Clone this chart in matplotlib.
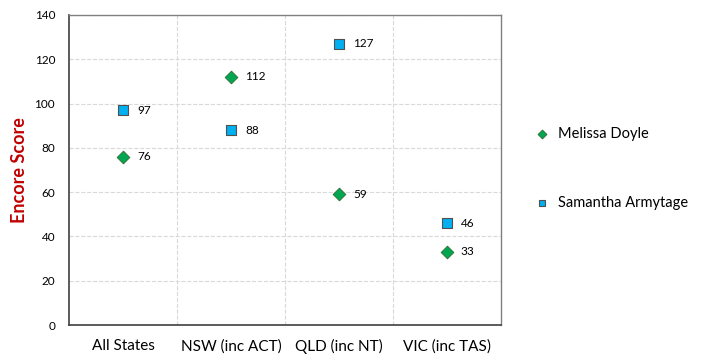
import matplotlib.pyplot as plt
import numpy as np

# Data
categories = ["All States", "NSW (inc ACT)", "QLD (inc NT)", "VIC (inc TAS)"]
melissa = [76, 112, 59, 33]
samantha = [97, 88, 127, 46]

plt.rcParams['font.family'] = ['Lato', 'DejaVu Sans']

fig = plt.figure(figsize=(7.07, 3.62), dpi=100)
ax = fig.add_axes([0.0976, 0.1022, 0.611, 0.8564])

x = np.arange(1, len(categories) + 1)
ax.scatter(x, melissa, marker='D', s=42, color='#00A651', edgecolors='#2E6B2E',
           linewidths=0.6, zorder=3, label='Melissa Doyle')
ax.scatter(x, samantha, marker='s', s=48, color='#00B0F0', edgecolors='#505050',
           linewidths=0.8, zorder=3, label='Samantha Armytage')

for xi, v in zip(x, melissa):
    ax.annotate(str(v), (xi, v), xytext=(10, 0), textcoords='offset points',
                va='center', ha='left', fontsize=8.5)
for xi, v in zip(x, samantha):
    ax.annotate(str(v), (xi, v), xytext=(10, 0), textcoords='offset points',
                va='center', ha='left', fontsize=8.5)

ax.set_xlim(0.5, 4.5)
ax.set_ylim(0, 140)
ax.set_yticks(range(0, 141, 20))
ax.set_xticks(x)
ax.set_xticklabels(categories, fontsize=11)
ax.tick_params(axis='y', labelsize=8.5, length=0, pad=10)
ax.tick_params(axis='x', length=0, pad=10)

ax.set_xticks([1.5, 2.5, 3.5], minor=True)
ax.tick_params(axis='x', which='minor', length=0)
ax.grid(True, which='minor', axis='x', color='#D9D9D9', linestyle='--', linewidth=0.8)
ax.grid(True, which='major', axis='y', color='#D9D9D9', linestyle='--', linewidth=0.8)
ax.set_axisbelow(True)

for side in ['left', 'bottom']:
    ax.spines[side].set_color('#404040')
    ax.spines[side].set_linewidth(1.2)
for side in ['top', 'right']:
    ax.spines[side].set_color('#808080')
    ax.spines[side].set_linewidth(1.0)

ax.set_ylabel('Encore Score', fontsize=13, fontweight='bold', color='#C00000', labelpad=5)

fig.legend(loc='upper left', bbox_to_anchor=(0.727, 0.686), frameon=False,
           fontsize=10.5, labelspacing=3.8, handletextpad=0.1, markerscale=0.7)

fig.savefig('out.png', dpi=100)
